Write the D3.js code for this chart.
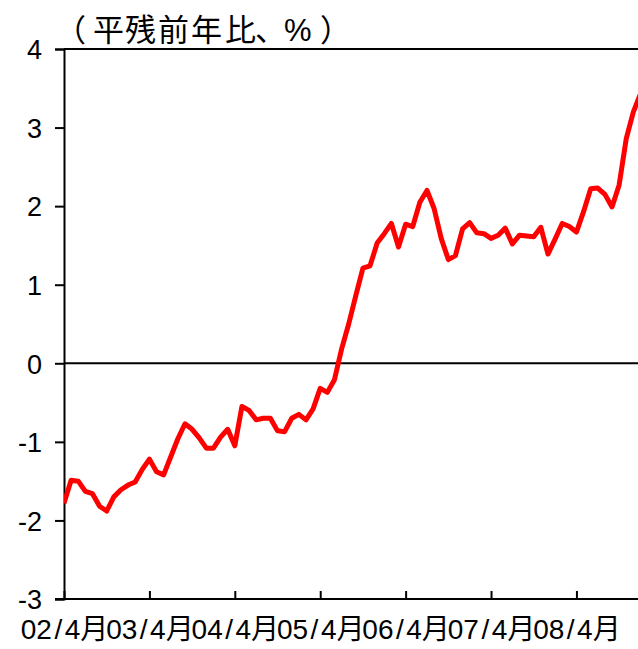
<!DOCTYPE html>
<html>
<head>
<meta charset="utf-8">
<script src="https://cdn.jsdelivr.net/npm/d3@7"></script>
<style>
  html, body { margin: 0; padding: 0; background: #fff; }
  svg { display: block; }
</style>
</head>
<body>
<svg id="chart" width="638" height="649"></svg>
<script>
// ---- data ----
const titleParts = ["（", "平", "残", "前", "年", "比", "、", "%", "）"];
const yTicks = [-3, -2, -1, 0, 1, 2, 3, 4];
const xTickLabels = ["02/4月", "03/4月", "04/4月", "05/4月", "06/4月", "07/4月", "08/4月"];
const xTickIndex = [0, 12, 24, 36, 48, 60, 72];
const values = [
  -1.78, -1.49, -1.50, -1.63, -1.66, -1.82, -1.88, -1.70, -1.61, -1.55, -1.51, -1.35,
  -1.22, -1.38, -1.42, -1.19, -0.96, -0.77, -0.84, -0.95, -1.08, -1.08, -0.94, -0.84,
  -1.05, -0.55, -0.60, -0.72, -0.70, -0.70, -0.86, -0.87, -0.70, -0.65, -0.72, -0.58,
  -0.32, -0.37, -0.21, 0.18, 0.50, 0.86, 1.21, 1.24, 1.53, 1.65, 1.78, 1.48,
  1.77, 1.74, 2.05, 2.20, 1.97, 1.59, 1.32, 1.37, 1.71, 1.79, 1.66, 1.65,
  1.59, 1.63, 1.72, 1.52, 1.63, 1.62, 1.61, 1.73, 1.39, 1.58, 1.78, 1.74,
  1.67, 1.93, 2.22, 2.23, 2.15, 1.99, 2.27, 2.86, 3.20, 3.43
];

// ---- layout ----
const W = 638, H = 649;
const mLeft = 64, mRight = 638, mTop = 49, mBottom = 599;
const svg = d3.select("#chart");

const x = d3.scaleLinear().domain([0, 80.65]).range([mLeft, mRight]);
const y = d3.scaleLinear().domain([-3, 4]).range([mBottom, mTop]);

const latin = "'Liberation Sans', Arial, 'Noto Sans CJK JP', sans-serif";
const cjk = "'Noto Sans CJK JP', 'Liberation Sans', sans-serif";

// clip
svg.append("defs").append("clipPath").attr("id", "plotclip")
  .append("rect").attr("x", mLeft).attr("y", 0).attr("width", mRight - mLeft).attr("height", H);

// zero line
svg.append("line")
  .attr("x1", mLeft).attr("x2", mRight)
  .attr("y1", y(0)).attr("y2", y(0))
  .attr("stroke", "#000").attr("stroke-width", 2);

// top border
svg.append("line")
  .attr("x1", mLeft).attr("x2", mRight)
  .attr("y1", y(4)).attr("y2", y(4))
  .attr("stroke", "#000").attr("stroke-width", 2);

// y axis
const yAxis = d3.axisLeft(y).tickValues(yTicks).tickSize(9).tickPadding(13)
  .tickFormat(d3.format("d"));
const gy = svg.append("g").attr("transform", `translate(${mLeft},0)`).call(yAxis);
gy.select(".domain").attr("stroke", "#000").attr("stroke-width", 2);
gy.selectAll(".tick line").attr("stroke", "#000").attr("stroke-width", 2);
gy.selectAll(".tick text")
  .attr("font-family", latin).attr("font-size", 27).attr("fill", "#000")
  .attr("dy", "0.36em")
  .text(d => d < 0 ? "-" + Math.abs(d) : String(d));

// x axis
const xAxis = d3.axisBottom(x).tickValues(xTickIndex).tickSize(-8).tickPadding(20)
  .tickFormat((d, i) => xTickLabels[i]);
const gx = svg.append("g").attr("transform", `translate(0,${mBottom})`).call(xAxis);
gx.select(".domain").remove();
gx.append("line").attr("x1", mLeft - 9).attr("x2", mRight).attr("y1", 0).attr("y2", 0)
  .attr("stroke", "#000").attr("stroke-width", 2);
gx.selectAll(".tick line").attr("stroke", "#000").attr("stroke-width", 2);
gx.selectAll(".tick text")
  .attr("font-family", latin).attr("font-size", 28).attr("fill", "#000")
  .each(function() {
    const t = d3.select(this);
    const s = t.text();
    const parts = s.split("/");
    t.text(null);
    t.append("tspan").text(parts[0]);
    t.append("tspan").attr("dx", 2.5).text("/");
    t.append("tspan").attr("dx", 2.5).text(parts[1]);
  });

// line
const line = d3.line().x((d, i) => x(i)).y(d => y(d));
svg.append("path")
  .datum(values)
  .attr("clip-path", "url(#plotclip)")
  .attr("d", line)
  .attr("fill", "none")
  .attr("stroke", "#ff0000")
  .attr("stroke-width", 5)
  .attr("stroke-linejoin", "round");

// title (per-glyph placement to mimic full-width spacing)
const titleX = [55, 93, 125, 158, 191, 225, 255, 284, 320];
const tt = svg.append("text").attr("y", 41).attr("font-size", 31).attr("fill", "#000");
titleParts.forEach((c, i) => {
  tt.append("tspan")
    .attr("x", titleX[i])
    .attr("font-family", c === "%" ? latin : cjk)
    .text(c);
});
</script>
</body>
</html>
